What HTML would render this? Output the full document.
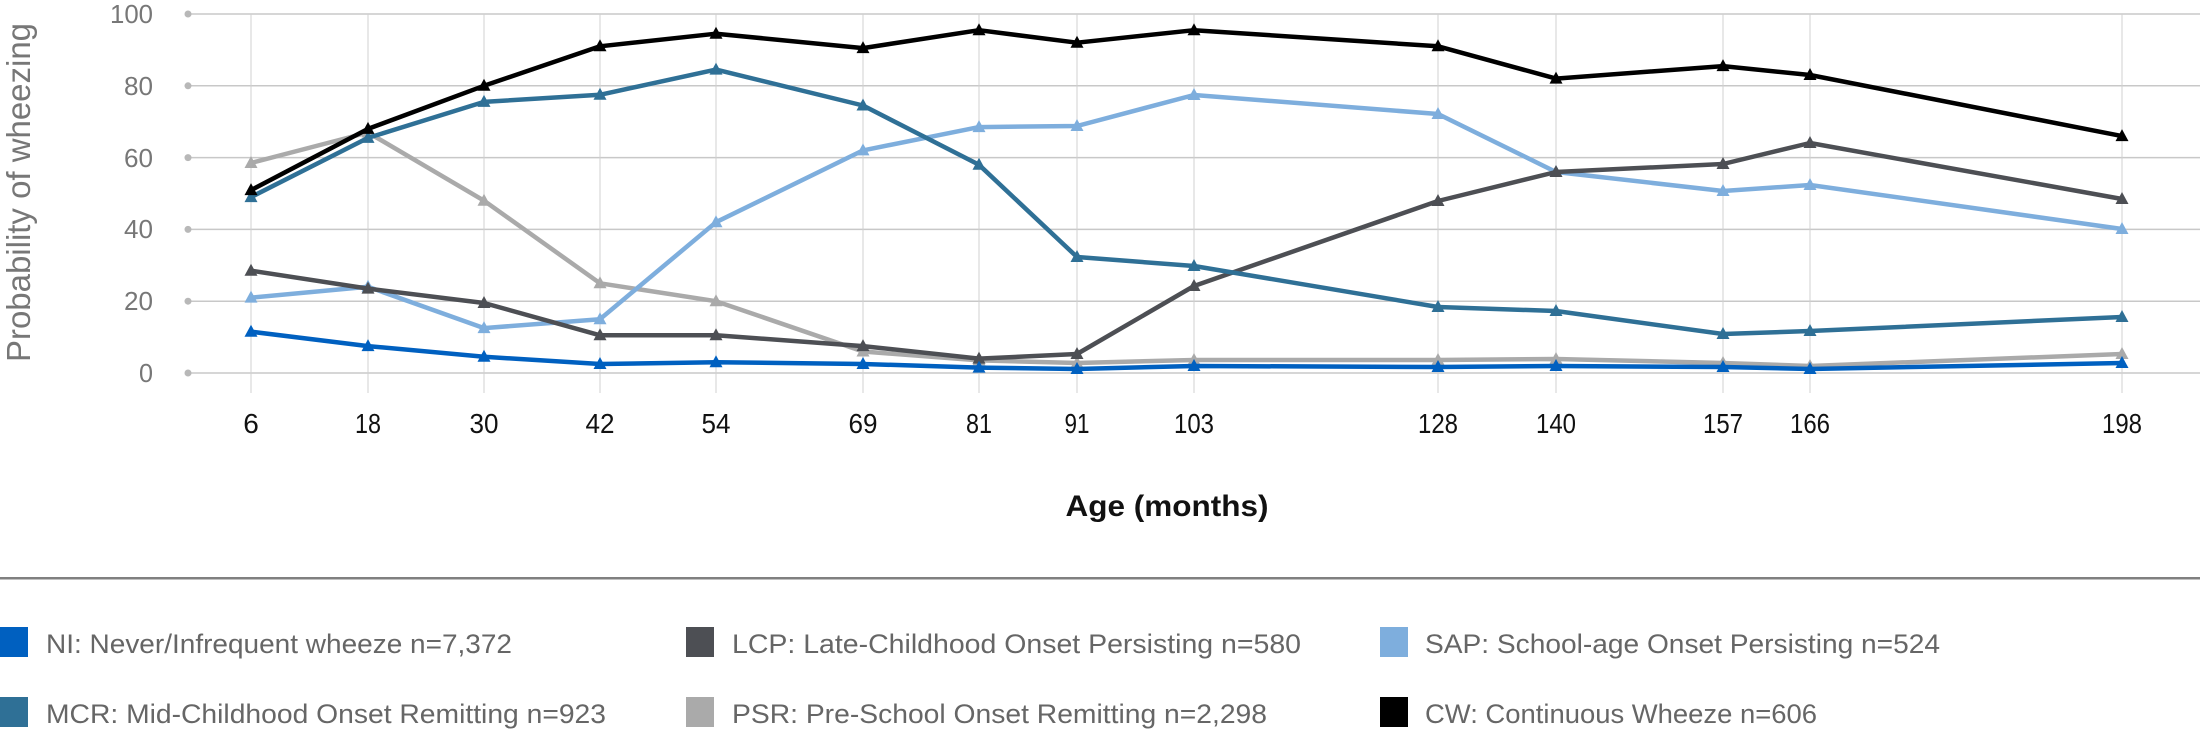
<!DOCTYPE html>
<html><head><meta charset="utf-8"><style>
html,body{margin:0;padding:0;background:#fff;}
svg{display:block;}
</style></head><body>
<svg width="2200" height="732" viewBox="0 0 2200 732" xmlns="http://www.w3.org/2000/svg" font-family="Liberation Sans, sans-serif">
<defs>
<marker id="mNI" markerUnits="userSpaceOnUse" markerWidth="16" markerHeight="16" refX="8" refY="8" overflow="visible"><path d="M8 1 L14.5 13 L1.5 13 Z" fill="#0060c0"/></marker>
<marker id="mLCP" markerUnits="userSpaceOnUse" markerWidth="16" markerHeight="16" refX="8" refY="8" overflow="visible"><path d="M8 1 L14.5 13 L1.5 13 Z" fill="#4d4f54"/></marker>
<marker id="mSAP" markerUnits="userSpaceOnUse" markerWidth="16" markerHeight="16" refX="8" refY="8" overflow="visible"><path d="M8 1 L14.5 13 L1.5 13 Z" fill="#7eaedd"/></marker>
<marker id="mMCR" markerUnits="userSpaceOnUse" markerWidth="16" markerHeight="16" refX="8" refY="8" overflow="visible"><path d="M8 1 L14.5 13 L1.5 13 Z" fill="#2f7096"/></marker>
<marker id="mPSR" markerUnits="userSpaceOnUse" markerWidth="16" markerHeight="16" refX="8" refY="8" overflow="visible"><path d="M8 1 L14.5 13 L1.5 13 Z" fill="#aaaaaa"/></marker>
<marker id="mCW" markerUnits="userSpaceOnUse" markerWidth="16" markerHeight="16" refX="8" refY="8" overflow="visible"><path d="M8 1 L14.5 13 L1.5 13 Z" fill="#000"/></marker>
</defs>
<!-- horizontal grid -->
<g stroke="#c8c8c8" stroke-width="1.5">
<line x1="188" y1="14" x2="2200" y2="14"/>
<line x1="188" y1="85.8" x2="2200" y2="85.8"/>
<line x1="188" y1="157.6" x2="2200" y2="157.6"/>
<line x1="188" y1="229.4" x2="2200" y2="229.4"/>
<line x1="188" y1="301.2" x2="2200" y2="301.2"/>
<line x1="188" y1="373" x2="2200" y2="373"/>
</g>
<g fill="#b8b8b8">
<circle cx="188" cy="14" r="3.5"/><circle cx="188" cy="85.8" r="3.5"/><circle cx="188" cy="157.6" r="3.5"/><circle cx="188" cy="229.4" r="3.5"/><circle cx="188" cy="301.2" r="3.5"/><circle cx="188" cy="373" r="3.5"/>
</g>
<!-- vertical grid -->
<g stroke="#d0d0d0" stroke-width="1">
<line x1="251" y1="14" x2="251" y2="393"/><line x1="368" y1="14" x2="368" y2="393"/><line x1="484" y1="14" x2="484" y2="393"/><line x1="600" y1="14" x2="600" y2="393"/><line x1="716" y1="14" x2="716" y2="393"/><line x1="863" y1="14" x2="863" y2="393"/><line x1="979" y1="14" x2="979" y2="393"/><line x1="1077" y1="14" x2="1077" y2="393"/><line x1="1194" y1="14" x2="1194" y2="393"/><line x1="1438" y1="14" x2="1438" y2="393"/><line x1="1556" y1="14" x2="1556" y2="393"/><line x1="1723" y1="14" x2="1723" y2="393"/><line x1="1810" y1="14" x2="1810" y2="393"/><line x1="2122" y1="14" x2="2122" y2="393"/>
</g>
<!-- y labels -->
<g fill="#777" font-size="26" text-anchor="end">
<text x="153" y="23" textLength="43" lengthAdjust="spacingAndGlyphs">100</text>
<text x="153" y="95" textLength="29" lengthAdjust="spacingAndGlyphs">80</text>
<text x="153" y="167" textLength="29" lengthAdjust="spacingAndGlyphs">60</text>
<text x="153" y="238" textLength="29" lengthAdjust="spacingAndGlyphs">40</text>
<text x="153" y="310" textLength="29" lengthAdjust="spacingAndGlyphs">20</text>
<text x="153" y="382" textLength="14" lengthAdjust="spacingAndGlyphs">0</text>
</g>
<text transform="translate(30,362) rotate(-90)" fill="#777" font-size="33" textLength="339" lengthAdjust="spacingAndGlyphs">Probability of wheezing</text>
<!-- x labels -->
<g fill="#111" font-size="28" text-anchor="middle">
<text x="251" y="433">6</text>
<text x="368" y="433" textLength="26" lengthAdjust="spacingAndGlyphs">18</text>
<text x="484" y="433" textLength="29" lengthAdjust="spacingAndGlyphs">30</text>
<text x="600" y="433" textLength="29" lengthAdjust="spacingAndGlyphs">42</text>
<text x="716" y="433" textLength="29" lengthAdjust="spacingAndGlyphs">54</text>
<text x="863" y="433" textLength="29" lengthAdjust="spacingAndGlyphs">69</text>
<text x="979" y="433" textLength="26" lengthAdjust="spacingAndGlyphs">81</text>
<text x="1077" y="433" textLength="25" lengthAdjust="spacingAndGlyphs">91</text>
<text x="1194" y="433" textLength="40" lengthAdjust="spacingAndGlyphs">103</text>
<text x="1438" y="433" textLength="40" lengthAdjust="spacingAndGlyphs">128</text>
<text x="1556" y="433" textLength="40" lengthAdjust="spacingAndGlyphs">140</text>
<text x="1723" y="433" textLength="40" lengthAdjust="spacingAndGlyphs">157</text>
<text x="1810" y="433" textLength="40" lengthAdjust="spacingAndGlyphs">166</text>
<text x="2122" y="433" textLength="40" lengthAdjust="spacingAndGlyphs">198</text>
</g>
<text x="1167" y="516" fill="#111" font-size="30" font-weight="bold" text-anchor="middle" textLength="203" lengthAdjust="spacingAndGlyphs">Age (months)</text>
<!-- series -->
<g fill="none" stroke-width="4.5" stroke-linejoin="round">
<polyline stroke="#aaaaaa" marker-start="url(#mPSR)" marker-mid="url(#mPSR)" marker-end="url(#mPSR)" points="251,163 368,132.5 484,200.7 600,283.3 716,301.2 863,351.5 979,360.4 1077,363 1194,360 1438,360 1556,359 1723,363 1810,366 2122,354"/>
<polyline stroke="#7eaedd" marker-start="url(#mSAP)" marker-mid="url(#mSAP)" marker-end="url(#mSAP)" points="251,297.6 368,286.8 484,328.1 600,319.2 716,222.2 863,150.4 979,127.1 1077,126 1194,95 1438,114 1556,172 1723,191 1810,185 2122,229"/>
<polyline stroke="#4d4f54" marker-start="url(#mLCP)" marker-mid="url(#mLCP)" marker-end="url(#mLCP)" points="251,270.7 368,288.6 484,303 600,335.3 716,335.3 863,346.1 979,358.6 1077,354 1194,286 1438,201 1556,172 1723,164 1810,143 2122,199"/>
<polyline stroke="#2f7096" marker-start="url(#mMCR)" marker-mid="url(#mMCR)" marker-end="url(#mMCR)" points="251,197.1 368,137.9 484,101.9 600,94.8 716,69.6 863,105.5 979,164.8 1077,257 1194,266 1438,307 1556,311 1723,334 1810,331 2122,317"/>
<polyline stroke="#000000" marker-start="url(#mCW)" marker-mid="url(#mCW)" marker-end="url(#mCW)" points="251,190.1 368,128.9 484,85.8 600,46.3 716,33.7 863,48.1 979,30.2 1077,42.7 1194,30.2 1438,46.3 1556,78.6 1723,66.1 1810,75 2122,136.1"/>
<polyline stroke="#0060c0" marker-start="url(#mNI)" marker-mid="url(#mNI)" marker-end="url(#mNI)" points="251,331.7 368,346.1 484,356.8 600,364 716,362.2 863,364 979,367.6 1077,369 1194,366 1438,367 1556,366 1723,367 1810,369 2122,363"/>
</g>
<!-- separator -->
<rect x="0" y="577" width="2200" height="2.5" fill="#808080"/>
<!-- legend -->
<rect x="0" y="627" width="28" height="30" fill="#0060c0"/>
<rect x="686" y="627" width="28" height="30" fill="#4d4f54"/>
<rect x="1380" y="627" width="28" height="30" fill="#7eaedd"/>
<rect x="0" y="697" width="28" height="30" fill="#2f7096"/>
<rect x="686" y="697" width="28" height="30" fill="#aaaaaa"/>
<rect x="1380" y="697" width="28" height="30" fill="#000000"/>
<g fill="#666" font-size="27">
<text x="46" y="653" textLength="466" lengthAdjust="spacingAndGlyphs">NI: Never/Infrequent wheeze n=7,372</text>
<text x="732" y="653" textLength="569" lengthAdjust="spacingAndGlyphs">LCP: Late-Childhood Onset Persisting n=580</text>
<text x="1425" y="653" textLength="515" lengthAdjust="spacingAndGlyphs">SAP: School-age Onset Persisting n=524</text>
<text x="46" y="723" textLength="560" lengthAdjust="spacingAndGlyphs">MCR: Mid-Childhood Onset Remitting n=923</text>
<text x="732" y="723" textLength="535" lengthAdjust="spacingAndGlyphs">PSR: Pre-School Onset Remitting n=2,298</text>
<text x="1425" y="723" textLength="392" lengthAdjust="spacingAndGlyphs">CW: Continuous Wheeze n=606</text>
</g>
</svg>
</body></html>
